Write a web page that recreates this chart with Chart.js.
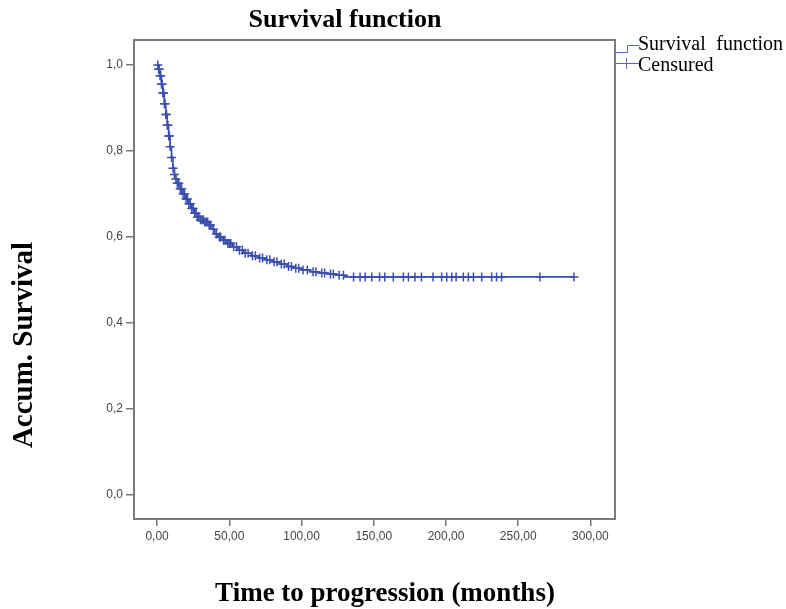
<!DOCTYPE html>
<html>
<head>
<meta charset="utf-8">
<script src="https://cdn.jsdelivr.net/npm/chart.js@4/dist/chart.umd.min.js"></script>
<style>
    html, body { margin: 0; padding: 0; background: #fff; }
    #wrap { width: 786px; height: 609px; position: relative; }
</style>
</head>
<body>
<div id="wrap"><canvas id="km-chart"></canvas></div>
<script>
// Kaplan-Meier step curve (months, cumulative survival)
const kmTime = [0, 1, 2, 3, 4, 5, 6, 7, 8, 9, 10, 11, 12, 13, 14, 16, 18, 20, 22, 24, 26, 28, 30, 33, 36, 38, 40, 42, 45, 48, 52, 56, 60, 65, 70, 75, 80, 85, 90, 95, 100, 106, 112, 118, 124, 130, 288.6];
const kmSurv = [1.0, 0.99, 0.975, 0.955, 0.935, 0.91, 0.885, 0.86, 0.835, 0.81, 0.785, 0.76, 0.745, 0.735, 0.725, 0.712, 0.70, 0.688, 0.677, 0.666, 0.655, 0.646, 0.64, 0.635, 0.628, 0.618, 0.607, 0.60, 0.592, 0.585, 0.577, 0.569, 0.562, 0.556, 0.551, 0.547, 0.542, 0.537, 0.531, 0.527, 0.523, 0.519, 0.516, 0.514, 0.511, 0.507, 0.507];

// Censored observations (months)
const censorTime = [0.5, 1, 1.5, 2, 2.5, 3, 3.5, 4, 4.5, 5, 5.5, 6, 6.5, 7, 7.5, 8, 8.5, 9, 10, 11, 12, 13, 14, 15, 16, 17, 18, 19, 20, 21, 22, 23, 24, 25, 26, 27, 28, 29, 30, 31, 32, 33, 34, 35, 36, 37, 39, 41, 43, 44, 46, 47, 49, 50, 51, 53, 55, 57, 59, 61, 63, 66, 68, 71, 73, 76, 78, 81, 83, 86, 88, 91, 93, 96, 98, 101, 104, 108, 110, 114, 116, 120, 122, 126, 129, 136, 140.5, 144, 148.6, 154, 157.6, 163.5, 170.5, 174, 178.5, 183, 191, 197, 200.5, 204, 207, 212, 215.5, 219, 224.7, 231.6, 235, 238.5, 265, 288.6];

const xTicks = [0, 50, 100, 150, 200, 250, 300];
const yTicks = [0, 0.2, 0.4, 0.6, 0.8, 1.0];

const blue = '#3a4fae';
const serif = '"Liberation Serif", "Times New Roman", serif';

// survival level of the step curve at time t (censor marks sit on the curve)
function survAt(t) {
    let s = kmSurv[0];
    for (let i = 0; i < kmTime.length; i++) {
        if (kmTime[i] <= t) s = kmSurv[i];
    }
    return s;
}

const curvePoints = kmTime.map((t, i) => ({ x: t, y: kmSurv[i] }));
const censorPoints = censorTime.map(t => ({ x: t, y: survAt(t) }));

// frame, titles and the legend box on the right
const decorPlugin = {
    id: 'decor',
    afterDraw(chart) {
        const ctx = chart.ctx;
        const a = chart.chartArea;
        ctx.save();

        ctx.strokeStyle = '#7a7a7a';
        ctx.lineWidth = 2;
        ctx.strokeRect(a.left, a.top, a.right - a.left, a.bottom - a.top);

        ctx.fillStyle = '#000';
        ctx.textAlign = 'center';
        ctx.textBaseline = 'middle';
        ctx.font = 'bold 26px ' + serif;
        ctx.fillText('Survival function', 345, 20);
        ctx.font = 'bold 27px ' + serif;
        ctx.fillText('Time to progression (months)', 385, 594);

        ctx.save();
        ctx.translate(25, 345);
        ctx.rotate(-Math.PI / 2);
        ctx.font = 'bold 29px ' + serif;
        ctx.fillText('Accum. Survival', 0, 0);
        ctx.restore();

        // legend symbols
        ctx.strokeStyle = '#5565c4';
        ctx.lineWidth = 1;
        ctx.beginPath();
        ctx.moveTo(616, 52.5);
        ctx.lineTo(627.5, 52.5);
        ctx.lineTo(627.5, 45.5);
        ctx.lineTo(639, 45.5);
        ctx.stroke();
        ctx.beginPath();
        ctx.moveTo(616, 63.5);
        ctx.lineTo(639, 63.5);
        ctx.moveTo(626.5, 58);
        ctx.lineTo(626.5, 69);
        ctx.stroke();

        ctx.font = '20px ' + serif;
        ctx.textAlign = 'left';
        ctx.fillText('Survival', 638, 45);
        ctx.textAlign = 'right';
        ctx.fillText('function', 783, 45);
        ctx.textAlign = 'left';
        ctx.fillText('Censured', 638, 66);

        ctx.restore();
    }
};

const ctx = document.getElementById('km-chart').getContext('2d');

new Chart(ctx, {
    type: 'scatter',
    data: {
        datasets: [
            {
                label: 'Survival function',
                data: curvePoints,
                showLine: true,
                stepped: 'before',
                borderColor: blue,
                borderWidth: 1.6,
                pointRadius: 0,
                order: 2
            },
            {
                label: 'Censured',
                data: censorPoints,
                showLine: false,
                pointStyle: 'cross',
                pointRadius: 4.5,
                borderColor: blue,
                borderWidth: 1.5,
                order: 1
            }
        ]
    },
    options: {
        responsive: true,
        maintainAspectRatio: false,
        animation: false,
        layout: {
            padding: { left: 0, top: 40, right: 171, bottom: 0 }
        },
        plugins: {
            legend: { display: false },
            title: { display: false },
            tooltip: { enabled: false }
        },
        scales: {
            x: {
                type: 'linear',
                min: -16,
                max: 317,
                afterBuildTicks: scale => {
                    scale.ticks = xTicks.map(v => ({ value: v }));
                },
                afterFit: scale => { scale.height = 90; },
                grid: {
                    drawOnChartArea: false,
                    drawTicks: true,
                    tickLength: 7,
                    color: '#777',
                    lineWidth: 1.5
                },
                border: { display: false },
                ticks: {
                    padding: 3,
                    color: '#444',
                    font: { family: '"Liberation Sans", Arial, sans-serif', size: 12 },
                    callback: v => v.toFixed(2).replace('.', ',')
                }
            },
            y: {
                type: 'linear',
                min: -0.056,
                max: 1.058,
                afterBuildTicks: scale => {
                    scale.ticks = yTicks.map(v => ({ value: v }));
                },
                afterFit: scale => { scale.width = 134; },
                grid: {
                    drawOnChartArea: false,
                    drawTicks: true,
                    tickLength: 8,
                    color: '#777',
                    lineWidth: 1.5
                },
                border: { display: false },
                ticks: {
                    padding: 3,
                    color: '#444',
                    font: { family: '"Liberation Sans", Arial, sans-serif', size: 12 },
                    callback: v => v.toFixed(1).replace('.', ',')
                }
            }
        }
    },
    plugins: [decorPlugin]
});
</script>
</body>
</html>
